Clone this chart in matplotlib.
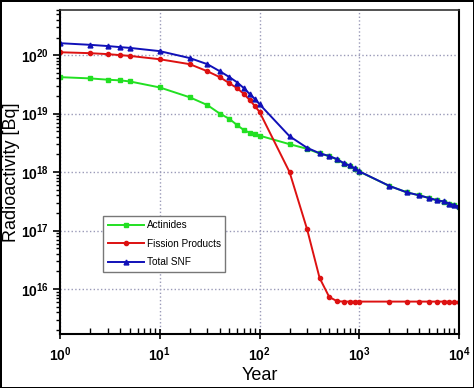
import math
import matplotlib
matplotlib.use("Agg")
import matplotlib.pyplot as plt
from matplotlib.ticker import LogLocator, FuncFormatter, NullFormatter

plt.rcParams['font.family'] = ['Liberation Sans', 'DejaVu Sans']
plt.rcParams['mathtext.fontset'] = 'custom'
plt.rcParams['mathtext.bf'] = 'Liberation Sans:bold'
plt.rcParams['mathtext.rm'] = 'Liberation Sans'

# time points [years]
years = [1, 2, 3, 4, 5, 10, 20, 30, 40, 50, 60, 70, 80, 90, 100,
         200, 300, 400, 500, 600, 700, 800, 900, 1000,
         2000, 3000, 4000, 5000, 6000, 7000, 8000, 9000, 10000]

actinides = [4.2e19, 4.0e19, 3.8e19, 3.7e19, 3.55e19, 2.8e19, 1.9e19, 1.4e19, 1.0e19,
             8.1e18, 6.3e18, 5.2e18, 4.7e18, 4.4e18, 4.2e18,
             3.0e18, 2.5e18, 2.08e18, 1.87e18, 1.64e18, 1.4e18, 1.29e18, 1.15e18, 1.02e18,
             5.8e17, 4.5e17, 4.0e17, 3.6e17, 3.3e17, 3.1e17, 2.9e17, 2.7e17, 2.55e17]

fission = [1.12e20, 1.08e20, 1.04e20, 1.0e20, 9.7e19, 8.5e19, 7.0e19, 5.3e19, 4.2e19,
           3.3e19, 2.7e19, 2.15e19, 1.7e19, 1.34e19, 1.07e19,
           1.0e18, 1.05e17, 1.55e16, 7.3e15, 6.2e15, 6.1e15, 6.1e15, 6.1e15, 6.1e15,
           6.1e15, 6.1e15, 6.1e15, 6.1e15, 6.1e15, 6.1e15, 6.1e15, 6.0e15, 6.0e15]

total = [1.6e20, 1.5e20, 1.43e20, 1.37e20, 1.33e20, 1.17e20, 8.9e19, 7.0e19, 5.3e19,
         4.2e19, 3.4e19, 2.7e19, 2.15e19, 1.77e19, 1.45e19,
         4.1e18, 2.6e18, 2.1e18, 1.88e18, 1.66e18, 1.42e18, 1.3e18, 1.16e18, 1.03e18,
         5.8e17, 4.5e17, 4.0e17, 3.6e17, 3.3e17, 3.15e17, 2.9e17, 2.7e17, 2.6e17]

fig = plt.figure(figsize=(4.74, 3.88), dpi=100)
fig.patch.set_edgecolor('black')
fig.patch.set_linewidth(2)
ax = fig.add_axes([0.1266, 0.139, 0.8418, 0.8365])

ax.plot(years, actinides, color='#22e022', marker='s', markersize=3, lw=1.4, label='Actinides')
ax.plot(years, fission, color='#dd1111', marker='o', markersize=3, lw=1.4, label='Fission Products')
ax.plot(years, total, color='#1010b8', marker='^', markersize=3.5, lw=1.4, label='Total SNF')

ax.set_xscale('log')
ax.set_yscale('log')
ax.set_xlim(1, 1e4)
ax.set_ylim(10**15.23, 10**20.78)

def decade(v, p):
    return r'$\mathbf{10^{%d}}$' % round(math.log10(v))

fmt = FuncFormatter(decade)
ax.xaxis.set_major_locator(LogLocator(base=10, numticks=10))
ax.yaxis.set_major_locator(LogLocator(base=10, numticks=10))
ax.xaxis.set_minor_locator(LogLocator(base=10, subs=range(2, 10), numticks=20))
ax.yaxis.set_minor_locator(LogLocator(base=10, subs=range(2, 10), numticks=20))
ax.xaxis.set_major_formatter(fmt)
ax.yaxis.set_major_formatter(fmt)
ax.xaxis.set_minor_formatter(NullFormatter())
ax.yaxis.set_minor_formatter(NullFormatter())

ax.tick_params(axis='x', which='major', direction='inout', length=7, width=1.2, labelsize=10, pad=5)
ax.tick_params(axis='x', which='minor', direction='in', length=4, width=1)
ax.tick_params(axis='y', which='major', direction='out', length=5, width=1.2, labelsize=10, pad=3)
ax.tick_params(axis='y', which='minor', direction='out', length=3, width=1)

ax.grid(True, which='major', color='#9a9ab8', linestyle=':', linewidth=1)

for s in ['left', 'bottom', 'right']:
    ax.spines[s].set_linewidth(1.5)
ax.spines['top'].set_linewidth(1.2)
ax.spines['top'].set_color('#333333')

ax.set_xlabel('Year', fontsize=13)
ax.set_ylabel('Radioactivity [Bq]', fontsize=13)
ax.xaxis.set_label_coords(0.5, -0.1)
ax.yaxis.set_label_coords(-0.1, 0.5)

leg = ax.legend(loc='upper left', bbox_to_anchor=(0.108, 0.364), fontsize=7.2,
                fancybox=False, edgecolor='#777777', framealpha=1,
                handlelength=3.6, borderpad=0.45, labelspacing=0.85, handletextpad=0.3,
                borderaxespad=0)
leg.get_frame().set_linewidth(1)

fig.savefig('out.png', dpi=100)
